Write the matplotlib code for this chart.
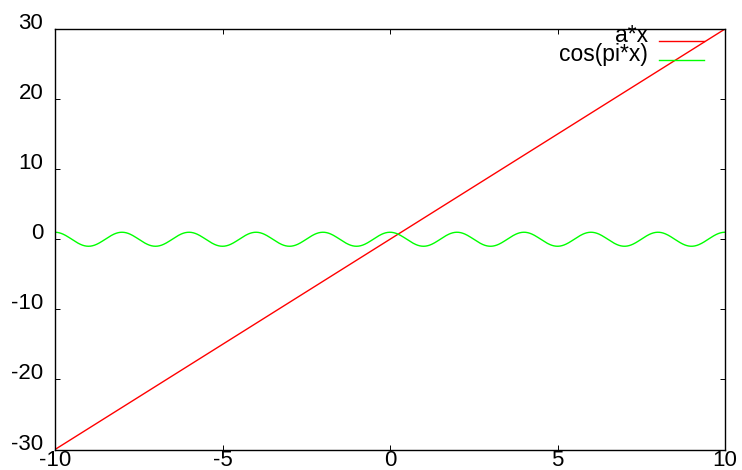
import numpy as np
import matplotlib.pyplot as plt
from matplotlib.lines import Line2D

# function plot: a*x and cos(pi*x)
a = 3
x = np.linspace(-10, 10, 100)
x_fine = np.linspace(-10, 10, 1000)
xticks = [-10, -5, 0, 5, 10]
yticks = [-30, -20, -10, 0, 10, 20, 30]
labels = ["a*x", "cos(pi*x)"]
colors = ["#ff0000", "#00ff00"]

plt.rcParams['font.family'] = ['Liberation Sans', 'DejaVu Sans']
plt.rcParams['axes.unicode_minus'] = False

fig = plt.figure(figsize=(7.42, 4.70), dpi=100)
ax = fig.add_axes([55/742, 1 - 449.5/470, 670/742, 420.5/470])

ax.plot(x, a * x, color=colors[0], lw=1)
ax.plot(x_fine, np.cos(np.pi * x_fine), color=colors[1], lw=1)

ax.set_xlim(-10, 10)
ax.set_ylim(-30, 30)
ax.set_xticks(xticks)
ax.set_yticks(yticks)
ax.tick_params(direction='in', length=3.6, width=0.7, top=True, right=True,
               labelsize=16, colors='black')
ax.tick_params(axis='y', pad=8.5)
ax.tick_params(axis='x', pad=0.5)
for lab in ax.get_yticklabels():
    lab.set_va('baseline')
for s in ax.spines.values():
    s.set_linewidth(1)
    s.set_color('black')

# gnuplot-style key, top right
rows_y = [0.969, 0.924]
for lab, c, yy in zip(labels, colors, rows_y):
    ax.text(0.885, yy, lab, transform=ax.transAxes, ha='right', va='baseline',
            fontsize=16.5)
    ax.add_line(Line2D([0.901, 0.969], [yy + 0.003, yy + 0.003],
                       transform=ax.transAxes, color=c, lw=1))

fig.savefig("out.png", dpi=100)
